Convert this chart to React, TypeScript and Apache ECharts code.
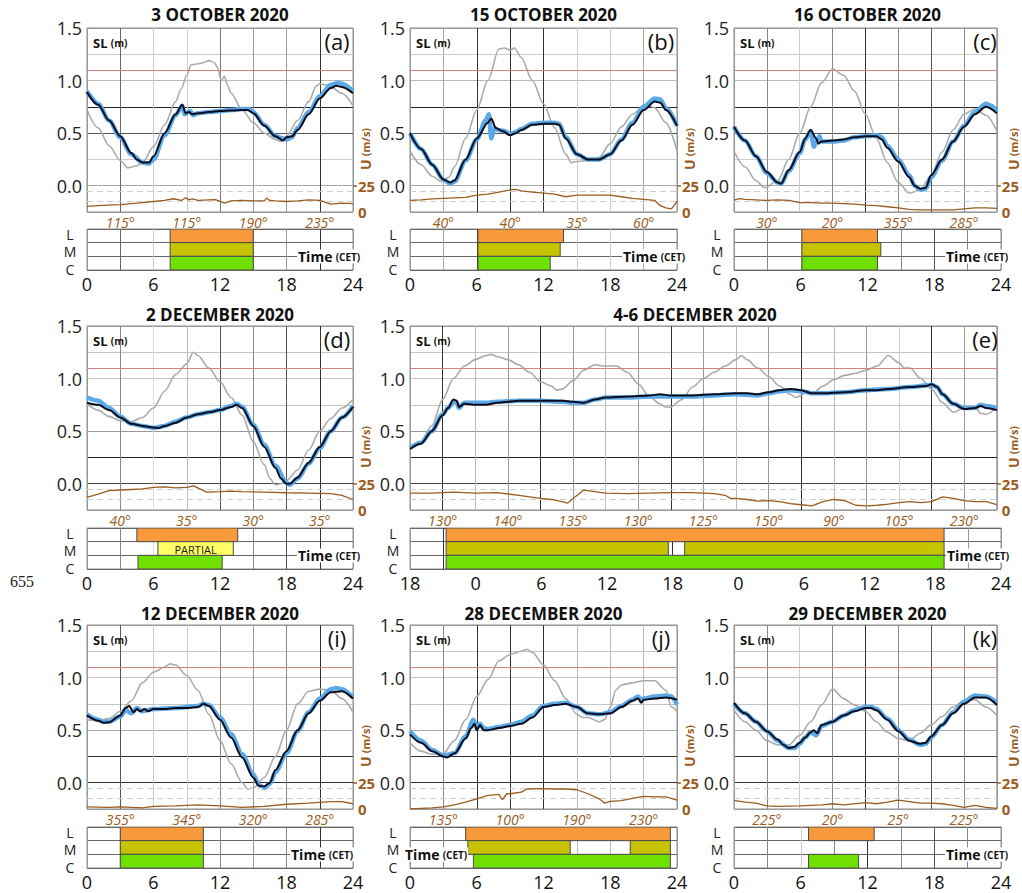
import React, { useEffect, useRef } from 'react';
import * as echarts from 'echarts';

// ---------------- DATA ----------------
// Each series: [hour, value]. SL in m, U (wind) in m/s.
const aGray = [[0,0.72],[1,0.55],[2,0.38],[3,0.24],[3.7,0.17],[4.5,0.19],[5,0.22],[6,0.37],[7,0.58],[8,0.8],[8.5,0.92],[9,1.05],[9.4,1.15],[10,1.16],[10.5,1.17],[11,1.19],[11.5,1.17],[11.8,1.12],[12.1,1.0],[12.4,1.04],[12.7,0.95],[13,0.88],[14,0.72],[15,0.6],[16,0.5],[17,0.44],[17.5,0.42],[18,0.47],[19,0.62],[20,0.8],[20.7,0.95],[21,0.97],[21.5,0.96],[22,0.94],[23,0.88],[24,0.76]];
const aBlue = [[0,0.9],[1,0.78],[2,0.62],[3,0.46],[4,0.3],[5,0.22],[5.6,0.21],[6,0.25],[7,0.48],[8,0.67],[8.6,0.76],[8.8,0.68],[9.3,0.71],[9.6,0.67],[10,0.69],[11,0.7],[12,0.71],[13,0.72],[14,0.73],[14.6,0.73],[15,0.7],[16,0.58],[17,0.47],[17.7,0.45],[18,0.44],[18.5,0.46],[19,0.55],[20,0.7],[21,0.85],[22,0.96],[22.7,0.98],[23,0.97],[24,0.9]];
const aBlack = [[0,0.89],[1,0.77],[2,0.62],[3,0.47],[4,0.31],[4.5,0.25],[5,0.22],[5.6,0.22],[6,0.28],[7,0.5],[8,0.68],[8.6,0.77],[8.9,0.69],[9.2,0.7],[9.5,0.68],[10,0.69],[11,0.7],[12,0.71],[13,0.715],[14,0.72],[14.5,0.72],[15,0.69],[16,0.57],[17,0.47],[17.7,0.43],[18,0.46],[18.5,0.47],[19,0.53],[20,0.68],[21,0.83],[22,0.93],[22.5,0.95],[23,0.94],[24,0.88]];
const aWind = [[0,5.4],[1,6],[2,6.5],[3,7],[4,8],[5,9],[6,10],[7,11],[7.8,12.6],[8.5,11],[8.9,13.6],[9.2,11.5],[9.5,12.5],[10,11],[11,11.5],[11.6,11.7],[12.4,8.5],[13,10.5],[14,11],[15,10.5],[16,10.5],[16.2,13.3],[16.5,11],[17,10.5],[18,10],[19,10.5],[20,11.5],[21,11],[22,7.5],[23,8.5],[24,8]];
const aDirs = ['115°', '115°', '190°', '235°'];
const aBars = [[7.5, 15, 'L'], [7.5, 15, 'M'], [7.5, 15, 'C']];

const bGray = [[0,0.33],[1,0.2],[2,0.09],[2.8,0.04],[3.5,0.08],[4,0.18],[5,0.45],[6,0.72],[7,1.0],[8,1.3],[8.5,1.31],[9,1.29],[9.4,1.31],[10,1.22],[11,1.0],[12,0.78],[13,0.55],[14,0.3],[14.5,0.22],[15,0.23],[16,0.24],[17,0.27],[18,0.4],[19,0.56],[20,0.68],[21,0.76],[21.5,0.76],[22,0.74],[23,0.6],[24,0.33]];
const bBlue = [[0,0.5],[1,0.35],[2,0.2],[3,0.06],[3.6,0.02],[4,0.04],[5,0.24],[6,0.44],[6.8,0.62],[7.1,0.68],[7.3,0.45],[7.6,0.55],[7.9,0.53],[8.5,0.52],[9,0.49],[9.5,0.51],[10,0.54],[11,0.59],[12,0.6],[13,0.6],[13.4,0.59],[14,0.46],[15,0.3],[16,0.25],[17,0.25],[18,0.3],[19,0.44],[20,0.6],[21,0.75],[22,0.83],[22.5,0.82],[23,0.74],[24,0.57]];
const bBlack = [[0,0.5],[1,0.35],[2,0.2],[3,0.06],[3.6,0.03],[4,0.05],[5,0.25],[6,0.45],[7,0.6],[7.3,0.64],[7.7,0.55],[8.3,0.52],[9,0.48],[9.5,0.5],[10,0.53],[11,0.58],[12,0.59],[13,0.59],[13.4,0.58],[14,0.45],[15,0.3],[16,0.25],[17,0.25],[18,0.3],[19,0.43],[20,0.58],[21,0.72],[22,0.8],[22.5,0.79],[23,0.72],[24,0.57]];
const bWind = [[0,11],[1,11.5],[2,12.5],[3,13],[4,13.5],[5,14],[6,16],[7,17],[8,19],[9,21],[9.5,21.5],[10,20],[11,19],[12,18],[13,17],[14,14.5],[15,16],[16,16],[17,16],[18,16],[19,14.5],[20,13],[21,12],[22,11],[22.5,6],[23,4],[23.5,3],[24,10]];
const bDirs = ['40°', '40°', '35°', '60°'];
const bBars = [[6.1, 13.8, 'L'], [6.1, 13.5, 'M'], [6.1, 12.6, 'C']];

const cGray = [[0,0.33],[1,0.18],[2,0.05],[2.8,-0.02],[4,0.05],[5,0.25],[6,0.5],[7,0.75],[8,0.98],[9,1.11],[10,1.05],[11,0.9],[12,0.68],[13,0.45],[14,0.22],[15,0.03],[16,-0.07],[17,-0.04],[18,0.1],[19,0.32],[20,0.53],[21,0.68],[22,0.73],[23,0.67],[24,0.52]];
const cBlue = [[0,0.56],[1,0.43],[2,0.28],[3,0.12],[4,0.03],[4.3,0.02],[5,0.14],[6,0.31],[6.5,0.44],[7,0.52],[7.3,0.37],[7.6,0.44],[7.8,0.47],[8,0.42],[9,0.42],[10,0.43],[11,0.46],[12,0.47],[13,0.48],[13.5,0.46],[14,0.38],[15,0.25],[16,0.1],[16.5,0.0],[17,-0.04],[17.5,-0.03],[18,0.08],[19,0.24],[20,0.42],[21,0.57],[22,0.7],[23,0.78],[23.5,0.76],[24,0.7]];
const cBlack = [[0,0.56],[1,0.43],[2,0.28],[3,0.13],[4,0.03],[4.3,0.02],[5,0.15],[6,0.32],[6.5,0.45],[7,0.53],[7.5,0.45],[7.7,0.4],[8,0.42],[9,0.43],[10,0.44],[11,0.46],[12,0.47],[13,0.47],[13.5,0.44],[14,0.36],[15,0.23],[16,0.08],[16.5,0.0],[17,-0.03],[17.5,-0.02],[18,0.1],[19,0.25],[20,0.42],[21,0.56],[22,0.68],[23,0.75],[24,0.69]];
const cWind = [[0,11.4],[0.5,12.8],[1,12],[2,11.5],[3,11],[4,11.5],[5,11],[6,9],[7,9],[8,8.5],[9,8.5],[10,8],[11,7.5],[12,6.5],[13,6],[14,5],[15,4],[16,2.5],[17,2],[18,2],[19,2],[20,2],[21,3],[22,4],[23,4],[24,3.5]];
const cDirs = ['30°', '20°', '355°', '285°'];
const cBars = [[6.1, 12.9, 'L'], [6.1, 13.2, 'M'], [6.1, 12.9, 'C']];

const dGray = [[0,0.76],[1,0.7],[2,0.64],[3,0.6],[4,0.59],[5,0.63],[6,0.72],[7,0.88],[8,1.04],[9,1.14],[9.6,1.25],[10,1.22],[11,1.1],[12,0.97],[13,0.82],[14,0.65],[15,0.4],[16,0.18],[16.5,0.05],[17,-0.01],[17.5,0.0],[18,0.03],[19,0.13],[20,0.32],[21,0.5],[22,0.62],[23,0.72],[24,0.8]];
const dBlue = [[0,0.82],[1,0.79],[2,0.72],[3,0.64],[4,0.57],[5,0.55],[6,0.53],[7,0.55],[8,0.59],[9,0.63],[10,0.66],[11,0.68],[12,0.7],[13,0.74],[13.5,0.76],[14,0.73],[15,0.56],[16,0.37],[17,0.17],[18,0.01],[18.3,-0.01],[19,0.05],[20,0.19],[21,0.34],[22,0.5],[23,0.63],[24,0.74]];
const dBlack = [[0,0.77],[1,0.75],[2,0.7],[3,0.63],[4,0.57],[5,0.55],[6,0.535],[6.5,0.53],[7,0.55],[8,0.58],[9,0.63],[10,0.66],[11,0.68],[12,0.7],[13,0.73],[13.5,0.75],[14,0.72],[15,0.55],[16,0.35],[17,0.15],[17.5,0.05],[18,0.0],[18.3,0.0],[19,0.06],[20,0.2],[21,0.35],[22,0.5],[23,0.63],[24,0.73]];
const dWind = [[0,12],[1,15],[2,18.5],[3,19],[4,19.5],[5,20],[6,21.5],[7,22],[8,21],[9,21.5],[9.6,23],[10,21],[10.8,17],[12,17.5],[13,18],[14,17.5],[16,17],[18,16.4],[20,16],[22,15.5],[23,14],[24,10]];
const dDirs = ['40°', '35°', '30°', '35°'];
const dBars = [[4.5, 13.6, 'L'], [4.6, 12.2, 'C']];
const dPartial = [[6.4, 13.2, 'M']];

const eGray = [[0,0.33],[1,0.4],[2,0.55],[3,0.8],[4,1.0],[5,1.12],[6,1.18],[7,1.22],[7.5,1.23],[8,1.21],[9,1.18],[10,1.13],[11,1.06],[12,0.97],[13,0.93],[13.5,0.89],[14,0.9],[15,0.98],[16,1.08],[17,1.13],[18,1.12],[19,1.12],[20,1.06],[21,0.95],[22,0.83],[23,0.76],[23.5,0.73],[24,0.73],[25,0.8],[26,0.92],[27,1.0],[28,1.06],[29,1.12],[30,1.18],[30.5,1.22],[31,1.18],[32,1.1],[33,1.02],[34,0.93],[35,0.85],[35.5,0.82],[36,0.84],[36.5,0.88],[37,0.85],[38,0.93],[39,0.99],[40,1.03],[41,1.05],[42,1.08],[43,1.12],[44,1.22],[45,1.15],[45.5,1.1],[46,1.1],[47,1.0],[48,0.9],[49,0.77],[50,0.68],[51,0.72],[52,0.73],[52.5,0.67],[53,0.66],[54,0.73]];
const eBlue = [[0,0.34],[1,0.39],[2,0.5],[3,0.66],[3.5,0.72],[4,0.78],[4.3,0.77],[4.5,0.72],[5,0.77],[6,0.77],[7,0.77],[8,0.78],[10,0.79],[12,0.79],[14,0.78],[15,0.77],[16,0.77],[17,0.8],[18,0.82],[20,0.82],[22,0.83],[24,0.83],[26,0.83],[28,0.84],[30,0.85],[32,0.84],[33,0.86],[34,0.88],[35,0.89],[36,0.88],[37,0.86],[38,0.86],[40,0.87],[42,0.89],[44,0.9],[46,0.92],[48,0.94],[48.5,0.92],[49,0.85],[50,0.76],[51,0.72],[52,0.72],[52.5,0.75],[53,0.74],[54,0.72]];
const eBlack = [[0,0.33],[1,0.38],[2,0.5],[3,0.65],[3.5,0.72],[4,0.8],[4.3,0.79],[4.5,0.73],[5,0.76],[6,0.75],[7,0.75],[8,0.77],[9,0.78],[10,0.79],[12,0.79],[14,0.79],[15,0.78],[16,0.77],[17,0.8],[18,0.82],[20,0.83],[22,0.84],[23,0.85],[24,0.84],[26,0.84],[28,0.85],[30,0.86],[31,0.86],[32,0.85],[33,0.87],[34,0.89],[35,0.9],[36,0.89],[37,0.86],[38,0.86],[40,0.87],[42,0.89],[43,0.89],[44,0.9],[46,0.92],[47.5,0.93],[48,0.945],[48.5,0.92],[49,0.85],[50,0.76],[51,0.71],[52,0.72],[52.5,0.74],[53,0.72],[54,0.7]];
const eWind = [[0,16],[2,16],[3,16.5],[4,17],[6,16],[8,16.5],[10,14],[12,11],[13,10],[14,8],[14.5,6.5],[15,11],[16,19],[17,17.5],[18,16],[20,15.5],[22,16],[24,16.5],[26,16.5],[28,15.5],[29,14],[29.5,11],[30,11],[31,10],[32,8.5],[33,9],[34,8],[35,6],[36,5],[37,4],[38,8],[39,10],[40,9],[41,4.5],[42,4],[43,4.5],[44,5.5],[45,7],[46,8],[47,7],[48,8],[49,12.5],[50,11],[51,9],[52,8],[53,8],[54,5]];
const eDirs = ['130°', '140°', '135°', '130°', '125°', '150°', '90°', '105°', '230°'];
const eBars = [[3.3, 48.8, 'L'], [3.3, 23.6, 'M'], [25.1, 48.8, 'M'], [3.3, 48.8, 'C']];

const iGray = [[0,0.6],[1,0.59],[2,0.61],[3,0.68],[4,0.78],[5,0.95],[6,1.05],[7,1.1],[7.5,1.13],[8,1.12],[9,1.02],[10,0.88],[11,0.65],[12,0.4],[13,0.18],[14,0.0],[14.5,-0.06],[15,-0.05],[16,0.05],[17,0.25],[18,0.5],[19,0.75],[20,0.87],[21,0.89],[22,0.88],[23,0.8],[24,0.67]];
const iBlue = [[0,0.65],[1,0.6],[1.5,0.58],[2,0.58],[3,0.63],[3.5,0.69],[4,0.66],[4.5,0.71],[5,0.68],[6,0.7],[8,0.71],[10,0.73],[10.5,0.75],[11,0.74],[12,0.62],[13,0.46],[14,0.27],[15,0.08],[15.5,-0.02],[16,-0.05],[16.5,-0.01],[17,0.1],[18,0.28],[19,0.49],[20,0.67],[21,0.8],[22,0.89],[22.5,0.9],[23,0.89],[24,0.81]];
const iBlack = [[0,0.64],[1,0.59],[1.5,0.57],[2,0.575],[3,0.64],[3.5,0.71],[3.8,0.73],[4.2,0.67],[4.5,0.7],[4.8,0.68],[5.2,0.7],[5.5,0.68],[6,0.7],[7,0.7],[8,0.71],[9,0.71],[10,0.72],[10.5,0.75],[11,0.73],[12,0.6],[13,0.43],[14,0.24],[15,0.05],[15.5,-0.03],[16,-0.035],[16.5,0.0],[17,0.12],[18,0.3],[19,0.5],[20,0.66],[21,0.78],[22,0.86],[23,0.87],[24,0.8]];
const iWind = [[0,2],[2,1.5],[3,2],[5,1],[6,2.5],[8,3],[10,4],[12,3],[14,1.5],[16,2.5],[18,4.5],[20,5.5],[22,7],[23,7],[24,5]];
const iDirs = ['355°', '345°', '320°', '285°'];
const iBars = [[3.0, 10.5, 'L'], [3.0, 10.5, 'M'], [3.0, 10.5, 'C']];

const jGray = [[0,0.38],[1,0.3],[2,0.27],[3,0.28],[4,0.4],[5,0.6],[6,0.82],[7,0.98],[8,1.16],[9,1.22],[10,1.25],[10.5,1.27],[11,1.24],[12,1.12],[13,0.97],[14,0.8],[15,0.65],[15.5,0.62],[16,0.62],[17,0.58],[17.5,0.6],[18,0.72],[18.5,0.88],[19,0.93],[20,0.95],[21,0.97],[22,0.97],[23,0.88],[23.5,0.72],[24,0.68]];
const jBlue = [[0,0.49],[1,0.4],[2,0.31],[3,0.26],[4,0.28],[5,0.44],[5.7,0.6],[6,0.52],[6.3,0.56],[6.6,0.52],[7,0.51],[8,0.53],[9,0.55],[10,0.58],[11,0.64],[12,0.73],[13,0.75],[14,0.76],[15,0.72],[16,0.66],[17,0.65],[18,0.67],[19,0.73],[20,0.79],[20.5,0.82],[20.8,0.79],[21,0.8],[22,0.82],[23,0.83],[23.5,0.82],[24,0.74]];
const jBlack = [[0,0.46],[1,0.38],[2,0.3],[3,0.25],[3.3,0.24],[4,0.28],[5,0.42],[5.5,0.52],[5.8,0.56],[6,0.5],[6.3,0.55],[6.6,0.5],[7,0.5],[8,0.52],[9,0.54],[10,0.56],[11,0.62],[12,0.72],[13,0.74],[14,0.75],[15,0.72],[16,0.66],[17,0.65],[18,0.66],[19,0.72],[20,0.78],[20.5,0.8],[20.8,0.76],[21,0.79],[22,0.8],[23,0.81],[24,0.79]];
const jWind = [[0,0.2],[2,1],[3,2],[4,4],[5,6.6],[6,9.7],[7,13],[8,13.9],[8.3,8.8],[8.7,14.5],[9,14.5],[10,16],[10.5,19],[12,19.3],[13,19],[14,19],[15,18.3],[16,14.5],[17,9.7],[17.5,5.6],[18,7.2],[19,8],[20,10],[21,12],[22,11.5],[23,11.5],[24,8.5]];
const jDirs = ['135°', '100°', '190°', '230°'];
const jBars = [[5.0, 23.4, 'L'], [5.2, 14.4, 'M'], [19.8, 23.4, 'M'], [5.7, 23.4, 'C']];

const kGray = [[0,0.69],[1,0.58],[2,0.5],[3,0.4],[4,0.36],[5,0.36],[6,0.45],[7,0.58],[8,0.74],[9,0.89],[10,0.8],[11,0.74],[12,0.68],[13,0.58],[14,0.48],[15,0.42],[16,0.4],[17,0.47],[18,0.55],[19,0.63],[20,0.72],[21,0.78],[22,0.79],[23,0.72],[24,0.64]];
const kBlue = [[0,0.75],[1,0.66],[2,0.58],[3,0.49],[4,0.4],[5,0.33],[5.5,0.33],[6,0.37],[6.5,0.43],[7,0.48],[7.5,0.45],[8,0.54],[9,0.58],[10,0.64],[11,0.69],[12,0.72],[12.5,0.72],[13,0.7],[14,0.61],[15,0.5],[16,0.41],[17,0.36],[17.5,0.37],[18,0.43],[19,0.55],[20,0.67],[21,0.77],[22,0.83],[23,0.82],[24,0.76]];
const kBlack = [[0,0.76],[1,0.66],[2,0.58],[3,0.49],[4,0.41],[4.5,0.36],[5,0.33],[5.5,0.34],[6,0.38],[6.5,0.43],[7,0.48],[7.3,0.5],[7.6,0.47],[8,0.55],[9,0.58],[10,0.64],[11,0.68],[12,0.71],[12.5,0.71],[13,0.69],[14,0.6],[15,0.49],[16,0.4],[17,0.37],[17.5,0.38],[18,0.44],[19,0.55],[20,0.66],[21,0.75],[22,0.81],[23,0.81],[24,0.74]];
const kWind = [[0,8.2],[1,6.5],[2,5.5],[3,3],[4,2.5],[6,3],[8,4],[9,5],[10,4],[12,6],[13,5],[14,6.5],[15,8.5],[16,7],[17,5.5],[18,5.5],[19,5],[20,3.5],[21,1.5],[22,3.5],[23,1.5],[24,0.5]];
const kDirs = ['225°', '20°', '25°', '225°'];
const kBars = [[6.7, 12.6, 'L'], [6.7, 11.2, 'C']];

const DAY_DIR_HOURS = [3, 9, 15, 21];
const E_DIR_HOURS = [3, 9, 15, 21, 27, 33, 39, 45, 51];
const ROWS = ['C', 'M', 'L'];
const FLOOD_LEVEL = 1.1; // red reference line (m)
const WIND_REF = [20, 10]; // dashed reference lines (m/s)

// ---------------- STYLE / LAYOUT ----------------
const FONT = '"Open Sans", "DejaVu Sans", sans-serif';
const BROWN = '#9a5c20';
const ROW_TOP = [28, 326, 625];
const BAR_TOP = [229, 528, 827];
const TITLE_Y = [14, 314, 613];
const MAIN_H = 184;
const BAR_H = 41;
const ROW_LABEL_DY: Record<string, number> = { L: 5, M: 22.5, C: 40 };
const ROW_FILL: Record<number, string> = { 2: '#f89a3b', 1: '#c7c300', 0: '#70e000' };
const H_COLORS = [
  ['#999', '#aaa', '#ccc', '#555', '#222', '#bbb', '#ccc', '#999'],
  ['#999', '#444', '#222', '#999', '#c4c4c4', '#c4c4c4', '#c4c4c4', '#999'],
  ['#999', '#333', '#333', '#aaa', '#c4c4c4', '#c4c4c4', '#c4c4c4', '#999'],
];

const stdTick = (v: number) => String(v);
const eTick = (v: number) => (v === 54 ? '24' : String((18 + v) % 24));

const panels = [
  { title: '3 OCTOBER 2020', letter: '(a)', row: 0, left: 87, width: 266, xMax: 24, gray: aGray, blue: aBlue, black: aBlack, wind: aWind, dirs: aDirs, dirHours: DAY_DIR_HOURS, bars: aBars, partial: null, tick: stdTick, timeX: 297, vCol: ['#999', '#666', '#ccc', '#ccc', '#777', '#999', '#999', '#333', '#999'] },
  { title: '15 OCTOBER 2020', letter: '(b)', row: 0, left: 410, width: 267, xMax: 24, gray: bGray, blue: bBlue, black: bBlack, wind: bWind, dirs: bDirs, dirHours: DAY_DIR_HOURS, bars: bBars, partial: null, tick: stdTick, timeX: 622, vCol: ['#999', '#aaa', '#333', '#333', '#333', '#ccc', '#ccc', '#aaa', '#999'] },
  { title: '16 OCTOBER 2020', letter: '(c)', row: 0, left: 734, width: 267, xMax: 24, gray: cGray, blue: cBlue, black: cBlack, wind: cWind, dirs: cDirs, dirHours: DAY_DIR_HOURS, bars: cBars, partial: null, tick: stdTick, timeX: 945, vCol: ['#999', '#888', '#ccc', '#888', '#333', '#888', '#555', '#888', '#999'] },
  { title: '2 DECEMBER 2020', letter: '(d)', row: 1, left: 87, width: 266, xMax: 24, gray: dGray, blue: dBlue, black: dBlack, wind: dWind, dirs: dDirs, dirHours: DAY_DIR_HOURS, bars: dBars, partial: dPartial, tick: stdTick, timeX: 297, vCol: ['#999', '#888', '#ddd', '#bbb', '#555', '#888', '#555', '#333', '#999'] },
  { title: '4-6 DECEMBER 2020', letter: '(e)', row: 1, left: 410, width: 591, xMax: 54, gray: eGray, blue: eBlue, black: eBlack, wind: eWind, dirs: eDirs, dirHours: E_DIR_HOURS, bars: eBars, partial: null, tick: eTick, timeX: 946, titleX: 695, vCol: ['#999', '#333', '#bbb', '#999', '#333', '#999', '#bbb', '#999', '#333', '#999', '#bbb', '#999', '#333', '#bbb', '#999', '#ccc', '#333', '#999', '#999'] },
  { title: '12 DECEMBER 2020', letter: '(i)', row: 2, left: 87, width: 266, xMax: 24, gray: iGray, blue: iBlue, black: iBlack, wind: iWind, dirs: iDirs, dirHours: DAY_DIR_HOURS, bars: iBars, partial: null, tick: stdTick, timeX: 290, vCol: ['#999', '#555', '#ccc', '#ccc', '#888', '#999', '#888', '#333', '#999'] },
  { title: '28 DECEMBER 2020', letter: '(j)', row: 2, left: 410, width: 267, xMax: 24, gray: jGray, blue: jBlue, black: jBlack, wind: jWind, dirs: jDirs, dirHours: DAY_DIR_HOURS, bars: jBars, partial: null, tick: stdTick, timeX: 404, vCol: ['#999', '#888', '#333', '#333', '#333', '#bbb', '#bbb', '#bbb', '#999'] },
  { title: '29 DECEMBER 2020', letter: '(k)', row: 2, left: 734, width: 267, xMax: 24, gray: kGray, blue: kBlue, black: kBlack, wind: kWind, dirs: kDirs, dirHours: DAY_DIR_HOURS, bars: kBars, partial: null, tick: stdTick, timeX: 945, vCol: ['#999', '#888', '#ccc', '#888', '#333', '#888', '#555', '#888', '#999'] },
];

function barRender(fillFor: (r: number) => string, label: string | null) {
  return (params: any, api: any) => {
    const r = api.value(2);
    const s = api.coord([api.value(0), r]);
    const e = api.coord([api.value(1), r]);
    const h = api.size([0, 1])[1];
    const rect = {
      type: 'rect',
      shape: { x: s[0], y: s[1] - h / 2, width: e[0] - s[0], height: h },
      style: { fill: fillFor(r), stroke: '#4a4a4a', lineWidth: 1 },
    };
    if (!label) return rect;
    return {
      type: 'group',
      children: [
        rect,
        { type: 'text', style: { x: (s[0] + e[0]) / 2, y: s[1] + 0.5, text: label, fill: '#222', font: `11px ${FONT}`, align: 'center', verticalAlign: 'middle' } },
      ],
    };
  };
}

function buildOption() {
  const grid: any[] = [];
  const xAxis: any[] = [];
  const yAxis: any[] = [];
  const series: any[] = [];
  const graphic: any[] = [];

  panels.forEach((p: any) => {
    const g = grid.length;
    grid.push({ left: p.left, top: ROW_TOP[p.row], width: p.width, height: MAIN_H, show: true, borderColor: '#8c8c8c', borderWidth: 1 });
    grid.push({ left: p.left, top: BAR_TOP[p.row], width: p.width, height: BAR_H, show: true, borderColor: '#8c8c8c', borderWidth: 1 });

    const xm = xAxis.length;
    xAxis.push({
      type: 'value', gridIndex: g, min: 0, max: p.xMax, interval: 3,
      axisLine: { show: false }, axisTick: { show: false },
      axisLabel: {
        margin: 3, color: BROWN, fontStyle: 'italic', fontSize: 14, fontFamily: FONT,
        showMinLabel: true, showMaxLabel: true,
        formatter: (v: number) => { const k = p.dirHours.indexOf(v); return k >= 0 ? p.dirs[k] : ''; },
      },
      splitLine: { show: true, lineStyle: { color: p.vCol, width: 1 } },
    });
    xAxis.push({
      type: 'value', gridIndex: g + 1, min: 0, max: p.xMax, interval: 3,
      axisLine: { show: false }, axisTick: { show: false },
      axisLabel: {
        margin: 5, color: '#111', fontSize: 18, fontFamily: FONT, showMinLabel: true, showMaxLabel: true,
        formatter: (v: number) => (v % 6 === 0 ? p.tick(v) : ''),
      },
      splitLine: { show: true, lineStyle: { color: p.vCol, width: 1 } },
    });

    const ys = yAxis.length;
    yAxis.push({
      type: 'value', gridIndex: g, min: -0.25, max: 1.5, interval: 0.25,
      axisLine: { show: false }, axisTick: { show: false },
      axisLabel: {
        margin: 5, fontSize: 18, color: '#222', fontFamily: FONT,
        formatter: (v: number) => (v >= 0 && Math.abs(v * 2 - Math.round(v * 2)) < 1e-6 ? v.toFixed(1) : ''),
      },
      splitLine: { show: true, lineStyle: { color: H_COLORS[p.row], width: 1 } },
    });
    yAxis.push({
      type: 'value', gridIndex: g, position: 'right', min: 0, max: 175, interval: 25,
      axisLine: { show: false }, splitLine: { show: false },
      axisTick: { show: true, customValues: [25], length: 4, lineStyle: { color: BROWN, width: 1.5 } },
      axisLabel: {
        customValues: [0, 25], margin: 5, color: BROWN, fontWeight: 'bold', fontSize: 15, fontFamily: FONT,
        formatter: (v: number) => (v === 0 || v === 25 ? String(v) : ''),
      },
    });
    yAxis.push({
      type: 'category', gridIndex: g + 1, data: ROWS,
      axisLine: { show: false }, axisTick: { show: false },
      axisLabel: { show: false },
      splitLine: { show: true, interval: 0, lineStyle: { color: '#666', width: 1 } },
    });

    const common = { type: 'line', xAxisIndex: xm, yAxisIndex: ys, symbol: 'none', showSymbol: false, silent: true, smooth: 0.3, smoothMonotone: 'x' };
    series.push({
      ...common, data: p.gray, z: 3, lineStyle: { color: '#ababab', width: 1.6 },
      markLine: { silent: true, symbol: ['none', 'none'], label: { show: false }, lineStyle: { color: '#cf8585', width: 1, type: 'solid' }, data: [{ yAxis: FLOOD_LEVEL }] },
    });
    series.push({ ...common, data: p.blue, z: 4, lineStyle: { color: '#5aa9e8', width: 4.5 } });
    series.push({ ...common, data: p.black, z: 5, lineStyle: { color: '#0c0c1c', width: 2 } });
    series.push({
      type: 'line', xAxisIndex: xm, yAxisIndex: ys + 1, symbol: 'none', showSymbol: false, silent: true, smooth: false,
      data: p.wind, z: 6, lineStyle: { color: BROWN, width: 1.3 },
      markLine: { silent: true, symbol: ['none', 'none'], label: { show: false }, lineStyle: { color: '#cfcfcf', width: 1, type: [6, 4] }, data: WIND_REF.map((w) => ({ yAxis: w })) },
    });

    series.push({
      type: 'custom', xAxisIndex: xm + 1, yAxisIndex: ys + 2, silent: true, z: 5, clip: true,
      encode: { x: [0, 1], y: 2 },
      data: p.bars.map((b: any) => [b[0], b[1], ROWS.indexOf(b[2])]),
      renderItem: barRender((r) => ROW_FILL[r], null),
    });
    if (p.partial) {
      series.push({
        type: 'custom', xAxisIndex: xm + 1, yAxisIndex: ys + 2, silent: true, z: 5, clip: true,
        encode: { x: [0, 1], y: 2 },
        data: p.partial.map((b: any) => [b[0], b[1], ROWS.indexOf(b[2])]),
        renderItem: barRender(() => '#ffff66', 'PARTIAL'),
      });
    }

    const top = ROW_TOP[p.row];
    graphic.push({
      type: 'text', x: p.titleX ?? p.left + p.width / 2, y: TITLE_Y[p.row], z: 100,
      style: { text: p.title, fill: '#111', font: `bold 17px ${FONT}`, align: 'center', verticalAlign: 'middle' },
    });
    graphic.push({
      type: 'text', x: p.left + p.width - 16, y: top + 13, z: 100,
      style: { text: p.letter, fill: '#111', font: `22px ${FONT}`, align: 'center', verticalAlign: 'middle' },
    });
    graphic.push({
      type: 'text', x: p.left + 6, y: top + 15, z: 100,
      style: {
        text: '{a|SL} {b|(m)}', align: 'left', verticalAlign: 'middle',
        rich: { a: { fontFamily: FONT, fontWeight: 'bold', fontSize: 13, fill: '#111' }, b: { fontFamily: FONT, fontWeight: 'bold', fontSize: 10, fill: '#111' } },
      },
    });
    graphic.push({
      type: 'text', x: p.left + p.width + 12, y: top + 121, rotation: Math.PI / 2, z: 100,
      style: {
        text: '{a|U} {b|(m/s)}', align: 'center', verticalAlign: 'middle',
        rich: { a: { fontFamily: FONT, fontWeight: 'bold', fontSize: 14, fill: BROWN }, b: { fontFamily: FONT, fontWeight: 'bold', fontSize: 11, fill: BROWN } },
      },
    });
    ['L', 'M', 'C'].forEach((r) => {
      graphic.push({
        type: 'text', x: p.left - 17, y: BAR_TOP[p.row] + ROW_LABEL_DY[r], z: 100,
        style: { text: r, fill: '#222', font: `14px ${FONT}`, lineHeight: 14, align: 'center', verticalAlign: 'middle' },
      });
    });
    graphic.push({
      type: 'text', x: p.timeX, y: BAR_TOP[p.row] + 27.5, z: 101,
      style: {
        text: '{a|Time} {b|(CET)}', align: 'left', verticalAlign: 'middle', backgroundColor: '#fff', padding: [0, 1],
        rich: { a: { fontFamily: FONT, fontWeight: 'bold', fontSize: 14, fill: '#111' }, b: { fontFamily: FONT, fontWeight: 'bold', fontSize: 10, fill: '#111' } },
      },
    });
  });

  graphic.push({
    type: 'text', x: 22, y: 581, z: 100,
    style: { text: '655', fill: '#222', font: '16px "Liberation Serif", "DejaVu Serif", serif', align: 'center', verticalAlign: 'middle' },
  });

  return { animation: false, backgroundColor: '#fff', grid, xAxis, yAxis, series, graphic };
}

export default function App() {
  const ref = useRef<HTMLDivElement>(null);
  useEffect(() => {
    const chart = echarts.init(ref.current!, null, { renderer: 'svg' });
    chart.setOption(buildOption() as any);
    return () => chart.dispose();
  }, []);
  return <div ref={ref} style={{ position: 'absolute', left: 0, top: 0, width: 1022, height: 893, background: '#fff' }} />;
}
